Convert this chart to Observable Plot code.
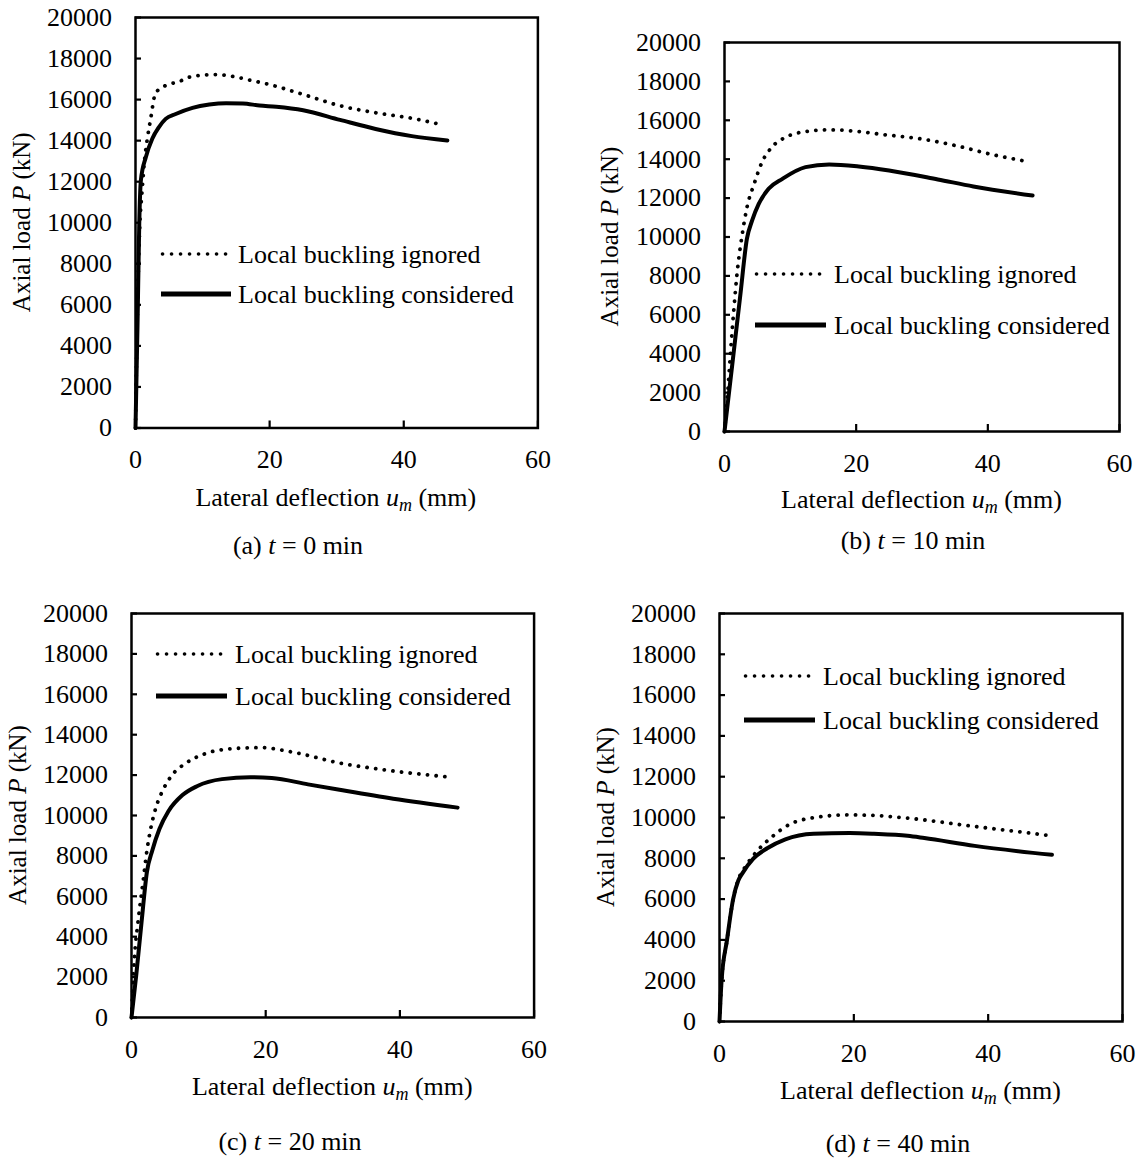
<!DOCTYPE html>
<html>
<head>
<meta charset="utf-8">
<script src="https://cdn.jsdelivr.net/npm/d3@7"></script>
<script src="https://cdn.jsdelivr.net/npm/@observablehq/plot@0.6"></script>
<style>
  html, body { margin: 0; padding: 0; background: #fff; }
  #root { position: relative; width: 1142px; height: 1163px; overflow: hidden; background: #fff; }
  #root svg { position: absolute; }
  #root svg text { font-family: 'Liberation Serif', 'Times New Roman', Times, serif !important; }
</style>
</head>
<body>
<div id="root"></div>
<script>
// ---------- DATA ----------
const xTicks = [0, 20, 40, 60];
const yTicks = [0, 2000, 4000, 6000, 8000, 10000, 12000, 14000, 16000, 18000, 20000];
const seriesNames = ["Local buckling ignored", "Local buckling considered"];
const captions = ["(a)|t| = 0 min", "(b)|t| = 10 min", "(c)|t| = 20 min", "(d)|t| = 40 min"];

// (a) t = 0 min
const a_ignored_u = [0, 0.25, 0.65, 0.95, 1.3, 1.8, 2.3, 2.8, 3.3, 5.0, 6.5, 8.1, 10.5, 12.0, 14.5, 17.0, 19.9, 25.2, 30.5, 35.8, 41.2, 46.0];
const a_ignored_P = [0, 5000, 9950, 11400, 12870, 14170, 15140, 16120, 16440, 16740, 16880, 17100, 17200, 17220, 17130, 16950, 16740, 16230, 15700, 15360, 15090, 14750];
const a_considered_u = [0, 0.3, 0.56, 0.8, 1.55, 2.5, 3.5, 4.5, 6.0, 8.5, 11.0, 13.5, 16.0, 18.5, 21.0, 25.0, 30.5, 35.8, 41.2, 46.5];
const a_considered_P = [0, 5000, 9950, 12060, 13200, 14090, 14660, 15060, 15300, 15600, 15760, 15825, 15810, 15710, 15650, 15480, 15010, 14570, 14220, 14010];

// (b) t = 10 min
const b_ignored_u = [0, 0.4, 0.9, 1.4, 1.9, 2.7, 3.4, 4.5, 5.7, 7.2, 9.3, 12.3, 15.9, 19.9, 24.0, 29.7, 35.1, 40.5, 46.0];
const b_ignored_P = [0, 1600, 4000, 6200, 8100, 10150, 11500, 12730, 13850, 14620, 15130, 15420, 15510, 15440, 15270, 15050, 14700, 14250, 13880];
const b_considered_u = [0, 1.2, 2.4, 3.4, 4.2, 5.2, 6.7, 8.8, 12.3, 15.9, 20.4, 25.0, 32.4, 37.8, 46.8];
const b_considered_P = [0, 3500, 7000, 9900, 10850, 11700, 12480, 12990, 13590, 13730, 13625, 13420, 12960, 12600, 12130];

// (c) t = 20 min
const c_ignored_u = [0, 0.44, 0.97, 1.77, 2.3, 2.85, 3.64, 4.7, 6.0, 8.15, 10.8, 15.1, 19.3, 24.1, 31.0, 37.9, 47.8];
const c_ignored_P = [0, 2970, 4730, 6850, 8270, 9330, 10390, 11270, 11980, 12600, 13040, 13310, 13360, 13130, 12600, 12250, 11890];
const c_considered_u = [0, 0.7, 1.5, 2.3, 3.1, 4.16, 5.5, 7.6, 9.75, 13.5, 17.7, 20.9, 26.3, 31.0, 39.0, 48.6];
const c_considered_P = [0, 2080, 4730, 7210, 8270, 9330, 10210, 11010, 11450, 11800, 11890, 11860, 11540, 11270, 10830, 10390];

// (d) t = 40 min
const d_ignored_u = [0, 0.31, 1.12, 2.03, 2.8, 3.9, 5.5, 7.7, 10.3, 14.0, 19.4, 24.0, 28.0, 38.0, 45.5, 49.5];
const d_ignored_P = [0, 2000, 4000, 6000, 6950, 7610, 8320, 9020, 9640, 9990, 10130, 10080, 9970, 9560, 9265, 9100];
const d_considered_u = [0, 0.31, 1.12, 2.03, 2.8, 3.4, 5.0, 7.1, 9.8, 14.0, 19.4, 23.0, 28.0, 30.5, 38.0, 49.5];
const d_considered_P = [0, 2000, 4000, 6000, 6910, 7260, 7970, 8490, 8930, 9200, 9235, 9200, 9100, 8990, 8610, 8170];

// ---------- LAYOUT ----------
const FONT = "'Liberation Serif', 'Times New Roman', Times, serif";
const panels = [
  { ign: [a_ignored_u, a_ignored_P], con: [a_considered_u, a_considered_P], caption: captions[0],
    frame: {l: 134.6, r: 537, t: 17, b: 427.5}, yTitleX: 30, xTitleY: 506, capX: 298, capY: 554,
    leg: {x1: 161, x2d: 226, x2s: 231, tx: 238, y1: 254, y2: 294} },
  { ign: [b_ignored_u, b_ignored_P], con: [b_considered_u, b_considered_P], caption: captions[1],
    frame: {l: 724, r: 1119, t: 42, b: 431}, yTitleX: 618, xTitleY: 508, capX: 913, capY: 549,
    leg: {x1: 755, x2d: 823, x2s: 826, tx: 834, y1: 274, y2: 325} },
  { ign: [c_ignored_u, c_ignored_P], con: [c_considered_u, c_considered_P], caption: captions[2],
    frame: {l: 131, r: 533.6, t: 613, b: 1017}, yTitleX: 26, xTitleY: 1095, capX: 290, capY: 1150,
    leg: {x1: 156, x2d: 223, x2s: 227, tx: 235, y1: 654, y2: 696} },
  { ign: [d_ignored_u, d_ignored_P], con: [d_considered_u, d_considered_P], caption: captions[3],
    frame: {l: 719, r: 1122, t: 613, b: 1021}, yTitleX: 614, xTitleY: 1099, capX: 898, capY: 1152,
    leg: {x1: 744, x2d: 813, x2s: 815, tx: 823, y1: 676, y2: 720} }
];

const root = document.getElementById("root");
const ML = 130, MR = 25, MT = 22, MB = 60;

const toRows = ([us, ps]) => us.map((u, i) => ({u, P: ps[i]}));

for (const p of panels) {
  const f = p.frame;
  const chart = Plot.plot({
    width: (f.r - f.l) + ML + MR,
    height: (f.b - f.t) + MT + MB,
    marginLeft: ML, marginRight: MR, marginTop: MT, marginBottom: MB,
    x: {domain: [0, 60]},
    y: {domain: [0, 20000]},
    style: {fontFamily: FONT, fontSize: "26px", color: "black", background: "transparent", overflow: "visible"},
    marks: [
      Plot.line(toRows(p.ign), {x: "u", y: "P", stroke: "black", strokeWidth: 3.8, strokeLinecap: "round", strokeDasharray: "0.1,8.6", curve: "monotone-x"}),
      Plot.line(toRows(p.con), {x: "u", y: "P", stroke: "black", strokeWidth: 4, curve: "monotone-x"}),
      Plot.axisX({ticks: xTicks, tickSize: -7, tickPadding: 29, tickFormat: d => String(d), label: null, strokeWidth: 2.2}),
      Plot.axisY({ticks: yTicks, tickSize: -6, tickPadding: 29.5, tickFormat: d => String(d), label: null, strokeWidth: 2.2}),
      Plot.frame({stroke: "black", strokeWidth: 2.5})
    ]
  });
  chart.style.left = (f.l - ML) + "px";
  chart.style.top = (f.t - MT) + "px";
  chart.setAttribute("font-family", FONT);
  d3.select(chart).selectAll("g, text").attr("font-family", FONT);
  root.appendChild(chart);
}

// ---------- overlay: titles, legends, captions ----------
const ov = d3.select(root).append("svg")
  .attr("width", 1142).attr("height", 1163)
  .style("left", "0px").style("top", "0px")
  .attr("font-family", FONT)
  .style("font-family", FONT).style("pointer-events", "none");

for (const p of panels) {
  const f = p.frame;
  const cx = (f.l + f.r) / 2, cy = (f.t + f.b) / 2;

  // y title
  const yt = ov.append("text")
    .attr("transform", `translate(${p.yTitleX},${cy}) rotate(-90)`)
    .attr("text-anchor", "middle").attr("font-size", 25).style("white-space", "pre");
  yt.append("tspan").text("Axial load ");
  yt.append("tspan").attr("font-style", "italic").text("P");
  yt.append("tspan").text(" (kN)");

  // x title
  const xt = ov.append("text")
    .attr("x", cx).attr("y", p.xTitleY)
    .attr("text-anchor", "middle").attr("font-size", 26).style("white-space", "pre");
  xt.append("tspan").text("Lateral deflection ");
  xt.append("tspan").attr("font-style", "italic").text("u");
  xt.append("tspan").attr("font-style", "italic").attr("font-size", 18).attr("dy", 5).text("m");
  xt.append("tspan").attr("dy", -5).text(" (mm)");

  // caption
  const [c1, c2, c3] = p.caption.split("|");
  const ct = ov.append("text")
    .attr("x", p.capX).attr("y", p.capY)
    .attr("text-anchor", "middle").attr("font-size", 26).style("white-space", "pre");
  ct.append("tspan").text(c1 + " ");
  ct.append("tspan").attr("font-style", "italic").text(c2);
  ct.append("tspan").text(c3);

  // legend
  const L = p.leg;
  ov.append("line").attr("x1", L.x1 + 1.5).attr("x2", L.x2d).attr("y1", L.y1).attr("y2", L.y1)
    .attr("stroke", "black").attr("stroke-width", 3.6).attr("stroke-linecap", "round").attr("stroke-dasharray", "0.1,8.9");
  ov.append("line").attr("x1", L.x1).attr("x2", L.x2s).attr("y1", L.y2).attr("y2", L.y2)
    .attr("stroke", "black").attr("stroke-width", 5);
  ov.append("text").attr("x", L.tx).attr("y", L.y1 + 8.5).attr("font-size", 26).text(seriesNames[0]);
  ov.append("text").attr("x", L.tx).attr("y", L.y2 + 8.5).attr("font-size", 26).text(seriesNames[1]);
}
</script>
</body>
</html>
